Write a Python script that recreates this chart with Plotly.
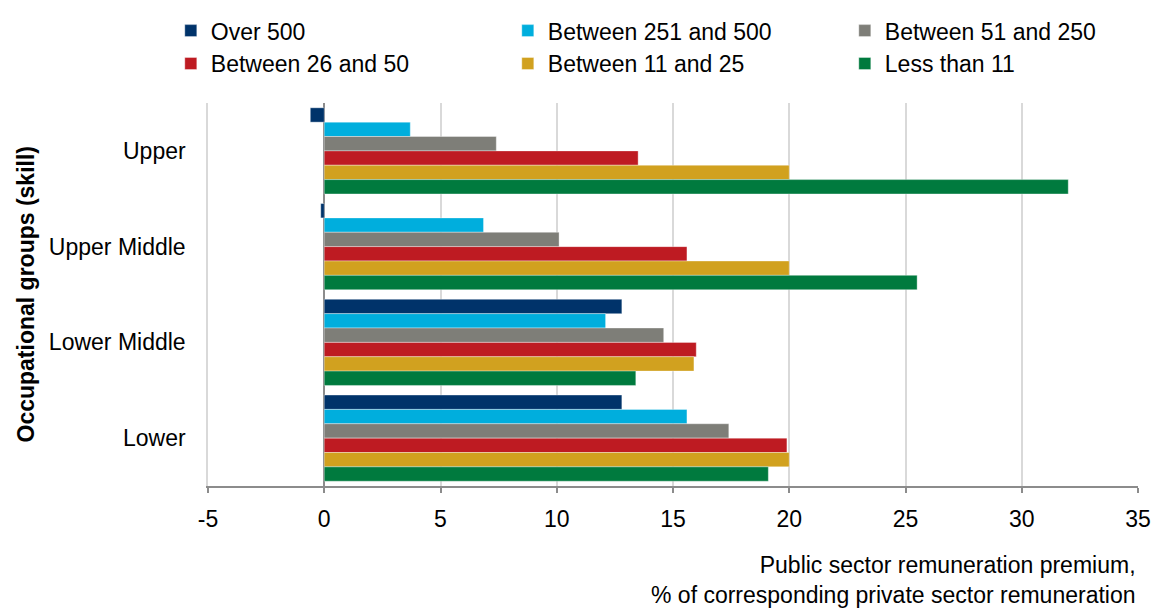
import plotly.graph_objects as go

categories = ["Upper", "Upper Middle", "Lower Middle", "Lower"]
series_names = ["Over 500", "Between 251 and 500", "Between 51 and 250",
                "Between 26 and 50", "Between 11 and 25", "Less than 11"]
over_500 = [-0.6, -0.15, 12.8, 12.8]
between_251_500 = [3.7, 6.85, 12.1, 15.6]
between_51_250 = [7.4, 10.1, 14.6, 17.4]
between_26_50 = [13.5, 15.6, 16.0, 19.9]
between_11_25 = [20.0, 20.0, 15.9, 20.0]
less_than_11 = [32.0, 25.5, 13.4, 19.1]
x_ticks = [-5, 0, 5, 10, 15, 20, 25, 30, 35]

series_values = [over_500, between_251_500, between_51_250,
                 between_26_50, between_11_25, less_than_11]
colors = ["#00336A", "#00AEDD", "#7E7E78", "#BE1B22", "#D1A11F", "#007A3E"]

FONT = "Liberation Sans, Arial, sans-serif"
FS = 23

fig = go.Figure()
for name, vals, col in zip(series_names, series_values, colors):
    fig.add_trace(go.Bar(
        y=categories, x=vals, name=name, orientation="h",
        marker=dict(color=col, line=dict(width=0.6, color="rgba(255,255,255,0.6)")),
    ))

fig.update_layout(
    width=1153, height=608,
    margin=dict(l=208, r=15, t=103, b=122, autoexpand=False),
    paper_bgcolor="white", plot_bgcolor="white",
    barmode="group", bargap=0.1, bargroupgap=0,
    font=dict(family=FONT, size=FS, color="#000000"),
    showlegend=True,
    legend=dict(
        orientation="h", x=-0.04, xanchor="left", y=1.245, yanchor="top",
        entrywidth=292, entrywidthmode="pixels",
        font=dict(family=FONT, size=FS, color="#000000"),
        itemwidth=30, tracegroupgap=0, traceorder="normal",
        bgcolor="rgba(0,0,0,0)",
    ),
    xaxis=dict(
        range=[-5, 35], tickvals=x_ticks, ticktext=[str(v) for v in x_ticks],
        showgrid=True, gridcolor="#D9D9D9", gridwidth=1.5,
        zeroline=True, zerolinecolor="#8C8C8C", zerolinewidth=2,
        showline=True, linecolor="#8C8C8C", linewidth=2,
        ticks="outside", ticklen=5, tickcolor="#8C8C8C", tickwidth=2,
        ticklabelstandoff=6,
        tickfont=dict(family=FONT, size=FS, color="#000000"),
    ),
    yaxis=dict(
        categoryorder="array", categoryarray=categories,
        autorange="reversed",
        showgrid=False, zeroline=False,
        showline=True, linecolor="#D9D9D9", linewidth=1.5,
        ticks="", ticklabelstandoff=16,
        tickfont=dict(family=FONT, size=FS, color="#000000"),
    ),
    annotations=[
        dict(text="Occupational groups (skill)", textangle=-90,
             xref="paper", yref="paper", x=-0.1957, y=0.5,
             xanchor="center", yanchor="middle", showarrow=False,
             font=dict(family=FONT, size=FS, color="#000000", weight="bold")),
        dict(text="Public sector remuneration premium,<br>% of corresponding private sector remuneration",
             xref="paper", yref="paper", x=1.0, y=-0.166,
             xanchor="right", yanchor="top", align="right", showarrow=False,
             font=dict(family=FONT, size=FS, color="#000000")),
    ],
)

fig.write_html("out.html")
